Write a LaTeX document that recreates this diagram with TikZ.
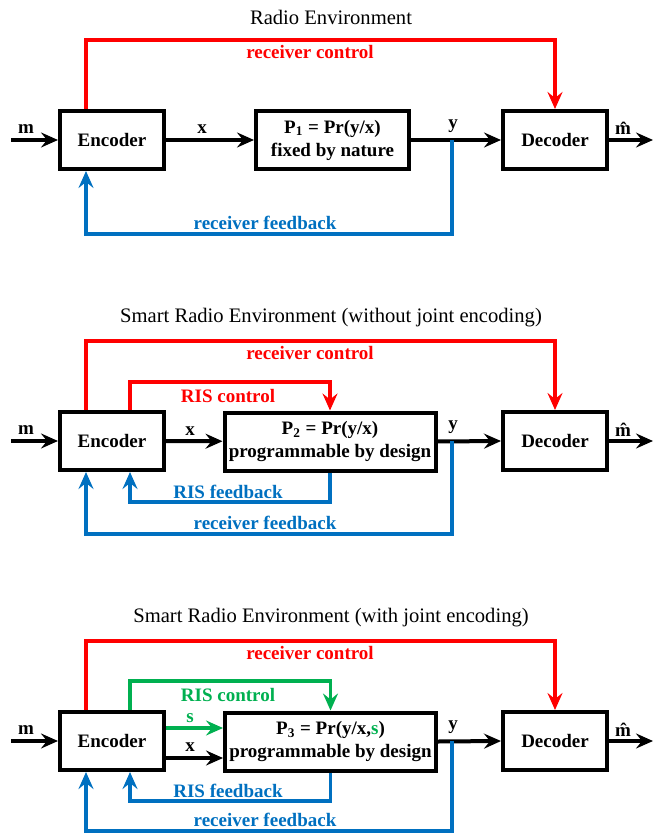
\documentclass[tikz,border=0pt]{standalone}
\usepackage{fontspec}
\setmainfont{Liberation Serif}
\usetikzlibrary{arrows.meta,positioning}
\definecolor{ctrlred}{RGB}{255,0,0}
\definecolor{fbblue}{RGB}{0,112,192}
\definecolor{risgreen}{RGB}{0,176,80}
\begin{document}
\begin{tikzpicture}[x=0.5pt,y=-0.5pt,
    block/.style={draw,line width=2pt,minimum width=52pt,minimum height=29pt,inner sep=1pt,
        align=center,font=\fontsize{9.5}{11.5}\selectfont\bfseries},
    chan/.style={block,minimum width=76.5pt},
    progbox/.style={block,minimum width=105.5pt},
    sig/.style={line width=2pt,-{Stealth[length=8.5pt,width=7.5pt,inset=3pt]}},
    link/.style={sig,line width=1.8pt},
    lbl/.style={inner sep=0pt,font=\fontsize{9.5}{11.5}\selectfont\bfseries},
    heading/.style={inner sep=0pt,font=\fontsize{10.3}{12}\selectfont}]
    \useasboundingbox (0,0) rectangle (661,833);
    % channel blocks
    \node[chan] (ch1) at (332.5,140) {P\textsubscript{1} = Pr(y/x)\\fixed by nature};
    \node[progbox] (ch2) at (330,441.5) {P\textsubscript{2} = Pr(y/x)\\programmable by design};
    \node[progbox] (ch3) at (330.5,741.5) {P\textsubscript{3} = Pr(y/x,\textcolor{risgreen}{s})\\programmable by design};
    % common frame of each panel: encoder, decoder and the receiver loops
    \foreach \p/\dy/\fb/\head in {1/0/234/{Radio Environment},
        2/301/534/{Smart Radio Environment (without joint encoding)},
        3/601/831/{Smart Radio Environment (with joint encoding)}}{%
        \node[heading] (title\p) at (331,17+\dy) {\head};
        \node[block] (enc\p) at (112,140+\dy) {Encoder};
        \node[block] (dec\p) at (555,140+\dy) {Decoder};
        \coordinate (in\p) at (11,140+\dy);
        \coordinate (out\p) at (653,140+\dy);
        \coordinate (tap\p) at (452,140+\dy);
        \coordinate (rc\p) at (86,40+\dy);
        \coordinate (rf\p) at (86,\fb);
        \draw[sig] (in\p) -- (enc\p.west);
        \node[lbl] (m\p) at (26,129+\dy) {m};
        \draw[sig] (ch\p.east) -- (dec\p.west);
        \node[lbl] (y\p) at (453,126+\dy) {y};
        \draw[sig] (dec\p.east) -- (out\p);
        \node[lbl,anchor=base] (mh\p) at (623,135+\dy) {m^^^^0302};
        % receiver control
        \draw[link,ctrlred] (enc\p.north -| rc\p) -- (rc\p) -| (dec\p.north);
        \node[lbl,text=ctrlred] (rcl\p) at (310,52+\dy) {receiver control};
        % receiver feedback
        \draw[link,fbblue] (tap\p) |- (rf\p) -- (enc\p.south -| rf\p);
        \node[lbl,text=fbblue] (rfl\p) at (265,\fb-11) {receiver feedback};
    }
    % panel 1
    \draw[sig] (enc1) -- (ch1);
    \node[lbl] (x1) at (202,129) {x};
    % panel 2
    \draw[sig] (enc2) -- (ch2);
    \node[lbl] (x2) at (190,431) {x};
    \coordinate (rsc2) at (130,382);
    \coordinate (rsf2) at (130,502);
    \draw[link,ctrlred] (enc2.north -| rsc2) -- (rsc2) -| (ch2.north);
    \node[lbl,text=ctrlred] (rscl2) at (228,396) {RIS control};
    \draw[link,fbblue] (ch2.south) |- (rsf2) -- (enc2.south -| rsf2);
    \node[lbl,text=fbblue] (rsfl2) at (228,492) {RIS feedback};
    % panel 3
    \coordinate (s3) at (190,728);
    \coordinate (x3) at (190,758);
    \draw[link,risgreen] (enc3.east |- s3) -- (ch3.west |- s3);
    \node[lbl,text=risgreen] (sl3) at (190,718) {s};
    \draw[sig] (enc3.east |- x3) -- (ch3.west |- x3);
    \node[lbl] (x3l) at (190,747) {x};
    \coordinate (rsc3) at (130,681);
    \coordinate (rsf3) at (130,801);
    \draw[link,risgreen] (enc3.north -| rsc3) -- (rsc3) -| (ch3.north);
    \node[lbl,text=risgreen] (rscl3) at (228,695) {RIS control};
    \draw[link,fbblue] (ch3.south) |- (rsf3) -- (enc3.south -| rsf3);
    \node[lbl,text=fbblue] (rsfl3) at (228,791) {RIS feedback};
\end{tikzpicture}
\end{document}
